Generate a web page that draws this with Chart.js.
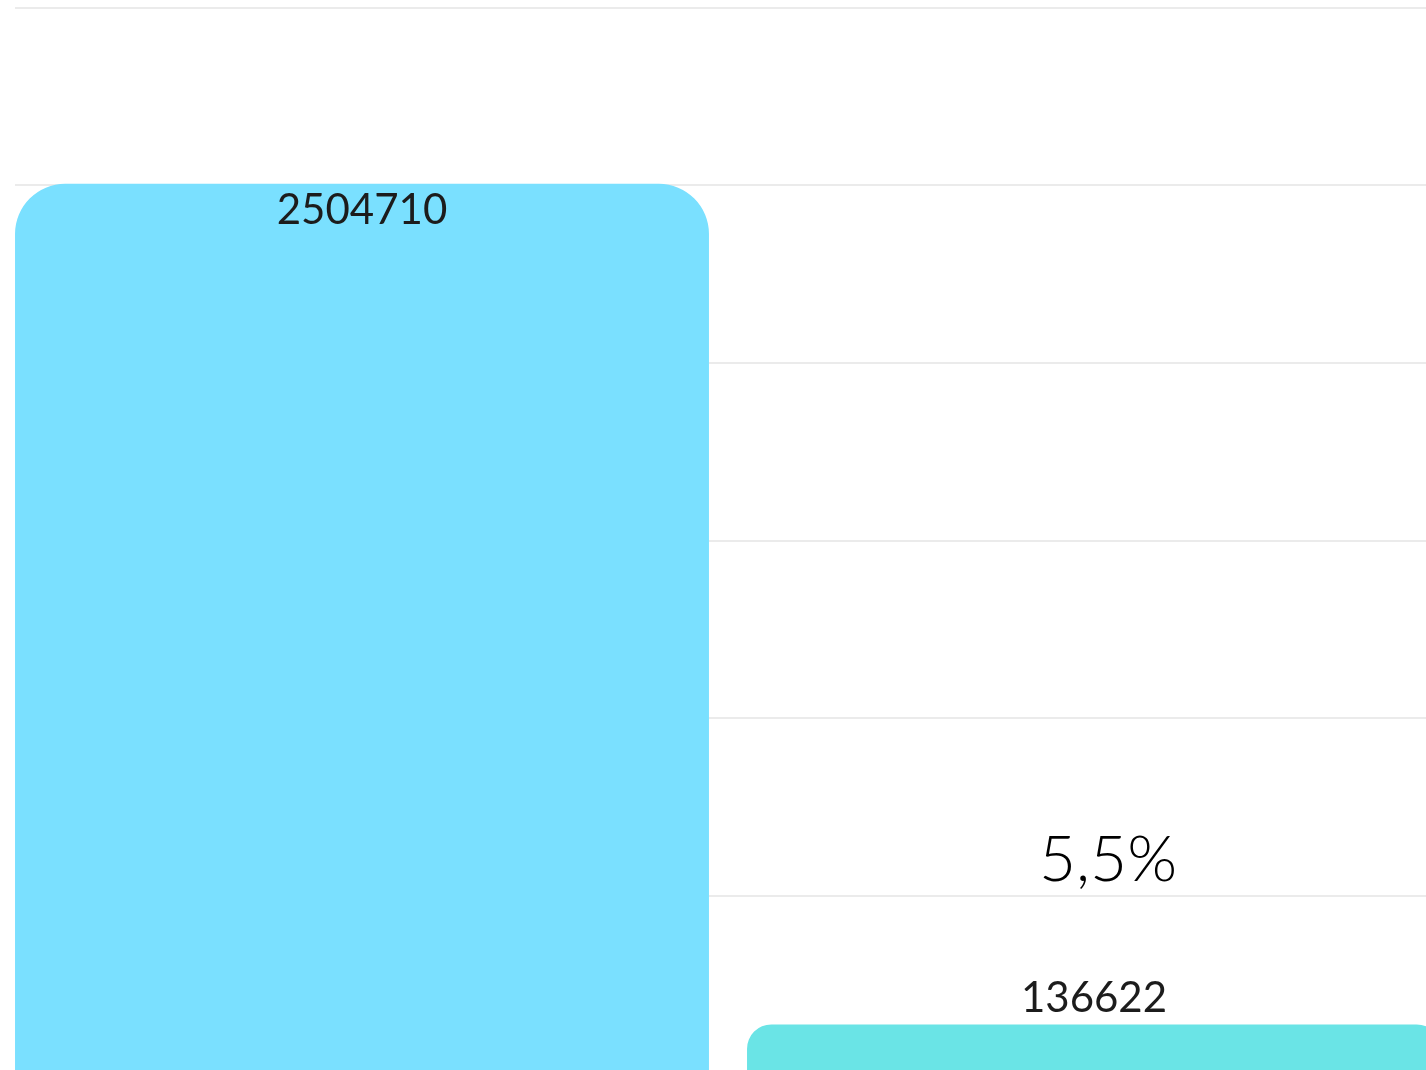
<!DOCTYPE html>
<html>
<head>
<meta charset="utf-8">
<script src="https://cdn.jsdelivr.net/npm/chart.js@4.4.1/dist/chart.umd.min.js"></script>
<style>
  html, body { margin: 0; padding: 0; background: #fff; overflow: hidden; width: 1426px; height: 1070px; }
  #wrap { position: absolute; left: -4px; top: 0; width: 1464px; height: 1073px; }
</style>
</head>
<body>
<div id="wrap"><canvas id="grafico"></canvas></div>
<script>
// Datos
const categorias = ['Total', 'Seleccionados'];
const valores = [2504710, 136622];
const colores = ['#7ae0ff', '#6ae4e6'];
const ticksY = [0, 500000, 1000000, 1500000, 2000000, 2500000, 3000000];

// Porcentaje del segundo sobre el primero, con coma decimal
const porcentaje = (valores[1] / valores[0] * 100).toFixed(1).replace('.', ',') + '%';

// Líneas de la rejilla (empiezan un poco a la derecha del borde)
const rejilla = {
    id: 'rejilla',
    beforeDatasetsDraw(chart) {
        const ctx = chart.ctx;
        const y = chart.scales.y;
        ctx.save();
        ctx.strokeStyle = '#ebebeb';
        ctx.lineWidth = 2;
        ticksY.forEach(v => {
            const py = Math.round(y.getPixelForValue(v));
            ctx.beginPath();
            ctx.moveTo(chart.chartArea.left + 19, py);
            ctx.lineTo(chart.chartArea.right, py);
            ctx.stroke();
        });
        ctx.restore();
    }
};

// Etiquetas con el valor de cada barra y el porcentaje
const etiquetas = {
    id: 'etiquetas',
    afterDatasetsDraw(chart) {
        const ctx = chart.ctx;
        const barras = chart.getDatasetMeta(0).data;
        const maximo = Math.max(...valores);
        ctx.save();
        ctx.textAlign = 'center';
        ctx.textBaseline = 'middle';
        ctx.fillStyle = '#1c1c1c';
        ctx.font = '42px Lato';
        barras.forEach((bar, i) => {
            // la barra más alta lleva el número dentro
            const y = valores[i] === maximo ? bar.y + 27 : bar.y - 26;
            ctx.fillText(String(valores[i]), bar.x, y);
        });
        const b = barras[1];
        ctx.fillStyle = '#000';
        ctx.font = '300 64px Lato';
        ctx.fillText(porcentaje, b.x + 14, b.y - 164);
        ctx.restore();
    }
};

const ctx = document.getElementById('grafico').getContext('2d');
new Chart(ctx, {
    type: 'bar',
    data: {
        labels: categorias,
        datasets: [{
            data: valores,
            backgroundColor: colores,
            borderRadius: { topLeft: 50, topRight: 50 },
            borderSkipped: 'bottom',
            categoryPercentage: 1,
            barPercentage: 0.948
        }]
    },
    options: {
        responsive: true,
        maintainAspectRatio: false,
        animation: false,
        layout: { padding: { top: 8, left: 0, right: 0, bottom: 0 } },
        scales: {
            x: { display: false },
            y: { display: false, min: 0, max: 3000000, grid: { display: false } }
        },
        plugins: {
            legend: { display: false },
            tooltip: { enabled: false }
        }
    },
    plugins: [rejilla, etiquetas]
});
</script>
</body>
</html>
